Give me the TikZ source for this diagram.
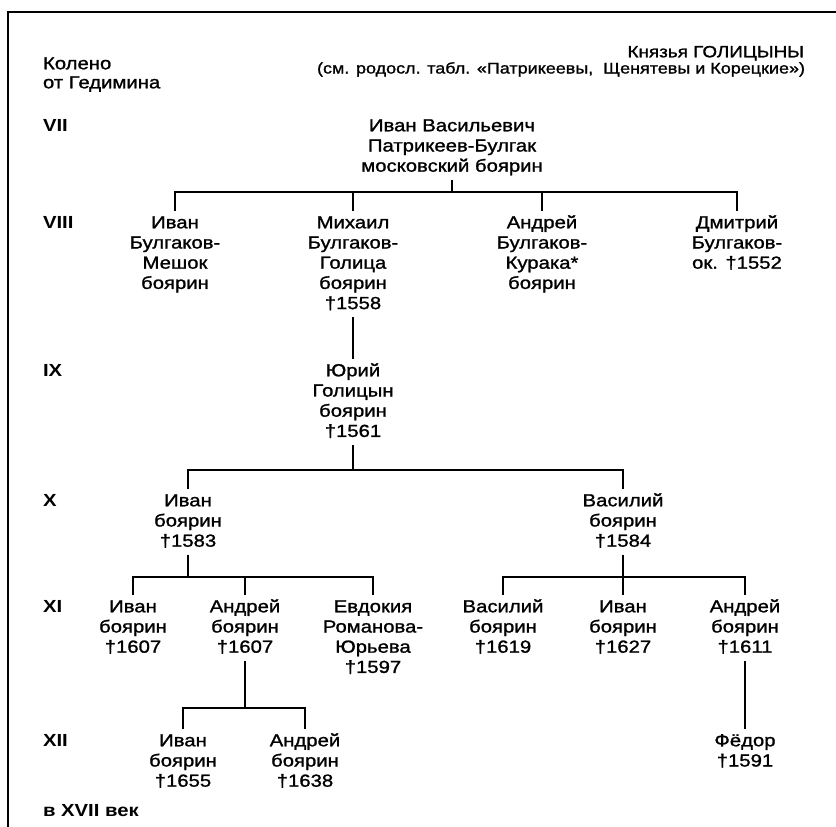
\documentclass[tikz,border=0pt]{standalone}
\usepackage{fontspec}
\setmainfont{Liberation Sans}[FakeStretch=1.16]
\newfontfamily\heavyfont{Liberation Sans}[FakeStretch=1.16,FakeBold=1.2]
\newcommand\tstr{\rule{0pt}{17pt}}
\newcommand\bstr{\rule[-5pt]{0pt}{5pt}}
\begin{document}
\begin{tikzpicture}[x=1pt,y=-1pt,
  person/.style={align=center,inner sep=0pt,outer sep=0pt,anchor=north,
    font=\heavyfont\fontsize{17.5}{20.2}\selectfont},
  lvl/.style={inner sep=0pt,outer sep=0pt,anchor=base west,
    font=\fontsize{17.5}{20.2}\selectfont\bfseries},
  lbl/.style={inner sep=0pt,outer sep=0pt,anchor=base west,
    font=\heavyfont\fontsize{17.5}{20.2}\selectfont},
  head/.style={inner sep=0pt,outer sep=0pt,anchor=base east,
    font=\heavyfont\fontsize{15.5}{16}\selectfont},
  link/.style={line width=1.2pt},
  frame/.style={line width=1.5pt}]
\fill[white] (0,0) rectangle (836,827);
\useasboundingbox (0,0) rectangle (836,827);
% frame
\coordinate (fl) at (8,827);
\coordinate (fc) at (8,12);
\coordinate (fr) at (836,12);
\draw[frame] (fl) -- (fc) -- (fr);
% header
\node[lbl] (kol1) at (43,69.3) {Колено};
\node[lbl] (kol2) at (43,88.3) {от Гедимина};
\node[head,font=\heavyfont\fontsize{16.3}{16}\selectfont] (h1) at (804,57.3) {Князья ГОЛИЦЫНЫ};
\node[head] (h2) at (805,73.5) {(см. родосл. табл. «Патрикеевы,\ \ Щенятевы и Корецкие»)};
% level labels
\node[lvl] (l7) at (43,131.3) {VII};
\node[lvl] (l8) at (43,228.3) {VIII};
\node[lvl] (l9) at (43,376.3) {IX};
\node[lvl] (l10) at (43,506.3) {X};
\node[lvl] (l11) at (43,612.3) {XI};
\node[lvl] (l12) at (43,746.3) {XII};
\node[lvl] (l17) at (43,816.3) {в XVII век};
% persons
\node[person] (root) at (452,114.3) {\tstr Иван Васильевич\\Патрикеев-Булгак\\московский боярин\bstr};
\node[person] (m1) at (175,211.3) {\tstr Иван\\Булгаков-\\Мешок\\боярин\bstr};
\node[person] (m2) at (353,211.3) {\tstr Михаил\\Булгаков-\\Голица\\боярин\\†1558\bstr};
\node[person] (m3) at (542,211.3) {\tstr Андрей\\Булгаков-\\Курака*\\боярин\bstr};
\node[person] (m4) at (737,211.3) {\tstr Дмитрий\\Булгаков-\\ок. †1552\bstr};
\node[person] (yu) at (353,359.3) {\tstr Юрий\\Голицын\\боярин\\†1561\bstr};
\node[person] (iv) at (188,489.3) {\tstr Иван\\боярин\\†1583\bstr};
\node[person] (va) at (623,489.3) {\tstr Василий\\боярин\\†1584\bstr};
\node[person] (i1) at (133,595.3) {\tstr Иван\\боярин\\†1607\bstr};
\node[person] (a1) at (245,595.3) {\tstr Андрей\\боярин\\†1607\bstr};
\node[person] (e1) at (373,595.3) {\tstr Евдокия\\Романова-\\Юрьева\\†1597\bstr};
\node[person] (v2) at (503,595.3) {\tstr Василий\\боярин\\†1619\bstr};
\node[person] (i2) at (623,595.3) {\tstr Иван\\боярин\\†1627\bstr};
\node[person] (a2) at (745,595.3) {\tstr Андрей\\боярин\\†1611\bstr};
\node[person] (i3) at (183,729.3) {\tstr Иван\\боярин\\†1655\bstr};
\node[person] (a3) at (305,729.3) {\tstr Андрей\\боярин\\†1638\bstr};
\node[person] (fe) at (745,729.3) {\tstr Фёдор\\†1591\bstr};
% bar levels
\coordinate (b1) at (452,192);
\coordinate (b2) at (353,470);
\coordinate (b3) at (188,577);
\coordinate (b4) at (623,577);
\coordinate (b5) at (245,708);
% connectors
\draw[link,shorten <=3pt] (root.south) -- (b1);
\draw[link] (m1.north) |- (m4.north |- b1) -- (m4.north);
\draw[link] (m2.north) -- (m2.north |- b1);
\draw[link] (m3.north) -- (m3.north |- b1);
\draw[link,shorten <=3pt] (m2.south) -- (yu.north);
\draw[link,shorten <=3pt] (yu.south) -- (b2);
\draw[link] (iv.north) |- (va.north |- b2) -- (va.north);
\draw[link,shorten <=3pt] (iv.south) -- (b3);
\draw[link] (i1.north) |- (e1.north |- b3) -- (e1.north);
\draw[link] (a1.north) -- (a1.north |- b3);
\draw[link,shorten <=3pt] (va.south) -- (b4);
\draw[link] (v2.north) |- (a2.north |- b4) -- (a2.north);
\draw[link] (i2.north) -- (i2.north |- b4);
\draw[link,shorten <=3pt] (a1.south) -- (b5);
\draw[link] (i3.north) |- (a3.north |- b5) -- (a3.north);
\draw[link,shorten <=3pt] (a2.south) -- (fe.north);
\end{tikzpicture}
\end{document}
